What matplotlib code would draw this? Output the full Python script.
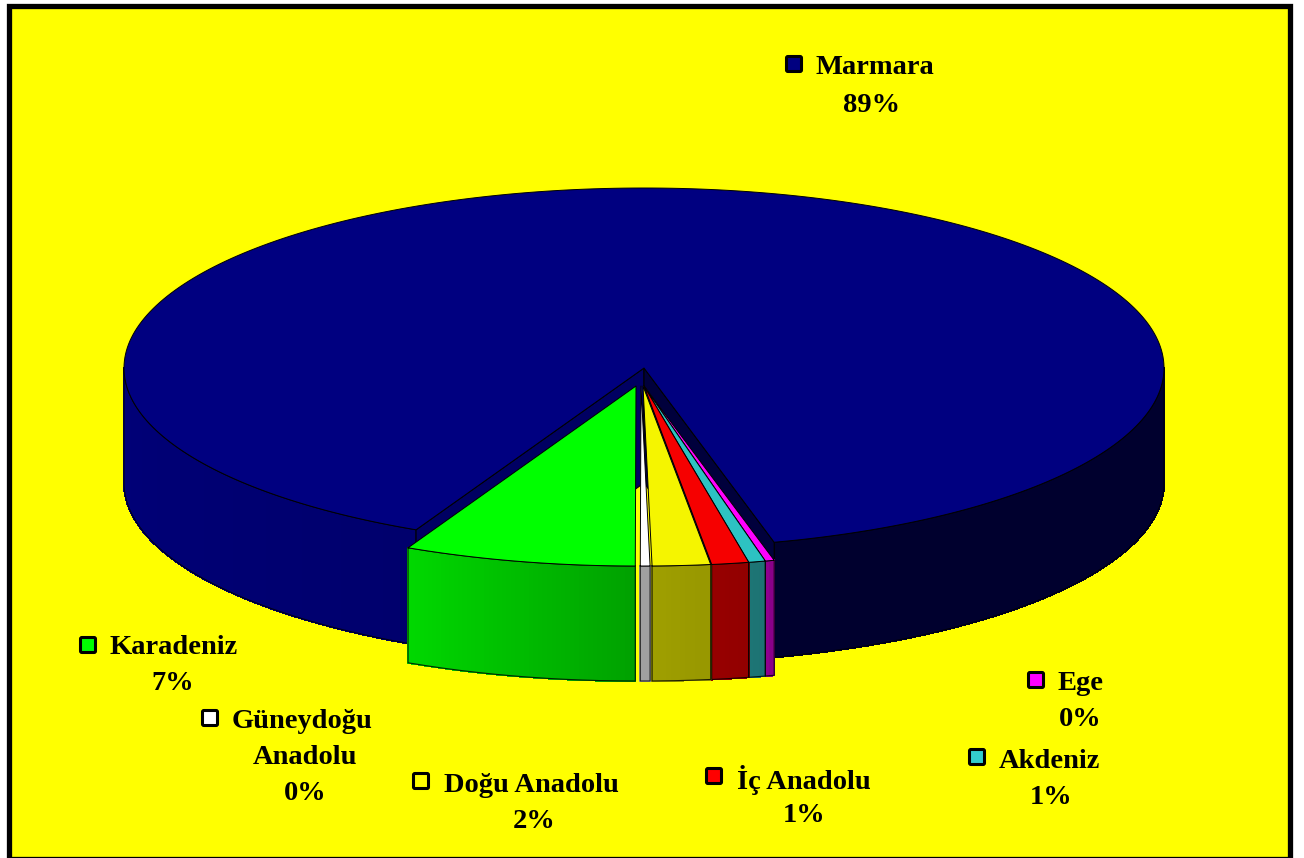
import numpy as np
import matplotlib
matplotlib.use("Agg")
import matplotlib.pyplot as plt
from matplotlib.collections import PolyCollection
from matplotlib.patches import FancyBboxPatch, Rectangle

# clockwise from the back of the pie
labels = ["Marmara", "Ege", "Akdeniz", "İç Anadolu", "Doğu Anadolu", "Güneydoğu\nAnadolu", "Karadeniz"]
values = [88.75, 0.28, 0.52, 1.15, 1.8, 0.3, 7.2]
colors = ["#000080", "#ff00ff", "#33cccc", "#ff0000", "#ffff00", "#ffffff", "#00ff00"]

START = -26.0  # degrees from straight down, positive to the right
CX, CY = 644, 368
RX, RY = 520, 180
DEPTH = 115

# how far each slice is pulled out, pixels
shift = {
    "Marmara": (0, 0), "Ege": (0, 18), "Akdeniz": (0, 18), "İç Anadolu": (0, 18),
    "Doğu Anadolu": (-1, 18), "Güneydoğu\nAnadolu": (-3, 18), "Karadeniz": (-8, 18),
}
top_colors = {"Doğu Anadolu": "#f5f500", "İç Anadolu": "#f60000", "Akdeniz": "#2dc2c2"}

# swatch centre, text left, first line y, centre x of the centred lines
label_pos = {
    "Marmara": (794, 64, 816, 65, 871, 103),
    "Ege": (1036, 680, 1058, 682, 1080, 717),
    "Akdeniz": (977, 757, 999, 759, 1051, 795),
    "İç Anadolu": (714, 776, 737, 778, 804, 814),
    "Doğu Anadolu": (421, 781, 444, 783, 534, 820),
    "Güneydoğu\nAnadolu": (210, 718, 232, 720, 305, 755),
    "Karadeniz": (88, 645, 110, 646, 173, 682),
}


def rim(phi, dx=0, dy=0):
    t = np.radians(phi)
    return CX + dx + RX * np.sin(t), CY + dy + RY * np.cos(t)


def shade(phi):
    return np.interp(phi, [-90, -26, 0, 14.2, 14.6, 90], [0.94, 0.85, 0.63, 0.56, 0.36, 0.36])


def darker(color, f):
    r, g, b = matplotlib.colors.to_rgb(color)
    return (r * f, g * f, b * f)


def draw_wall(ax, phi1, phi2, color, dx=0, dy=0, z=1):
    # only the front part of the wall can be seen
    phi1, phi2 = max(phi1, -90), min(phi2, 90)
    if phi2 <= phi1:
        return
    edges = np.linspace(phi1, phi2, max(int((phi2 - phi1) * 2), 2) + 1)
    polys, cols = [], []
    for a, b in zip(edges[:-1], edges[1:]):
        xa, ya = rim(a, dx, dy)
        xb, yb = rim(b, dx, dy)
        polys.append([(xa, ya), (xb, yb), (xb, yb + DEPTH), (xa, ya + DEPTH)])
        cols.append(darker(color, shade((a + b) / 2)))
    ax.add_collection(PolyCollection(polys, facecolors=cols, edgecolors=cols, linewidths=0.8,
                                     antialiaseds=False, zorder=z))
    ph = np.linspace(phi1, phi2, 80)
    x, y = rim(ph, dx, dy)
    ax.plot(np.r_[x, x[::-1], x[0]], np.r_[y, y[::-1] + DEPTH, y[0]],
            color="#000000", lw=0.8, alpha=0.8, zorder=z + 0.1)


def draw_top(ax, phi1, phi2, color, dx=0, dy=0, z=3):
    ph = np.linspace(phi1, phi2, 300)
    x, y = rim(ph, dx, dy)
    ax.fill(np.r_[CX + dx, x], np.r_[CY + dy, y], facecolor=color, edgecolor="#000000",
            lw=0.7, joinstyle="round", zorder=z)


fig = plt.figure(figsize=(13.04, 8.58), dpi=100, facecolor="white")
ax = fig.add_axes([0, 0, 1, 1])
ax.set_xlim(0, 1304)
ax.set_ylim(858, 0)
ax.axis("off")

ax.add_patch(Rectangle((8.5, 5.5), 1281, 853, facecolor="#ffff00", edgecolor="black", lw=3.8, zorder=0))

# slice limits, going clockwise means phi falls
ends = START - np.cumsum(values) * 3.6 + 360
starts = np.r_[START + 360, ends[:-1]]

# Marmara: wall either side of the gap, then the two cut faces, then the top
m_end = ends[0]
draw_wall(ax, -90, START, colors[0])
draw_wall(ax, m_end, 90, colors[0])
for phi, col in [(START, "#000062"), (m_end, "#00003c")]:
    x, y = rim(phi)
    ax.fill([CX, x, x, CX], [CY, y, y + DEPTH, CY + DEPTH], facecolor=col,
            edgecolor="black", lw=0.8, zorder=2)
draw_top(ax, m_end, 360 + START, colors[0], z=2.5)

# the pulled-out slices, right to left
for i in range(1, len(labels)):
    lab = labels[i]
    dx, dy = shift[lab]
    lo, hi = ends[i], starts[i]
    draw_wall(ax, lo, hi, colors[i], dx, dy, z=4 + i * 0.01)
    draw_top(ax, lo, hi, top_colors.get(lab, colors[i]), dx, dy, z=5 + i * 0.01)

# labels
font = {"family": "Liberation Serif", "weight": "bold", "color": "black", "fontsize": 20.5}
for lab, val, col in zip(labels, values, colors):
    sx, sy, tx, ty, mx, py = label_pos[lab]
    ax.add_patch(FancyBboxPatch((sx - 7.5, sy - 7.5), 15, 15, boxstyle="round,pad=0,rounding_size=1.5",
                                facecolor=col, edgecolor="black", lw=2.2, zorder=6))
    parts = lab.split("\n")
    ax.text(tx, ty + 2, parts[0], ha="left", va="center", zorder=6, **font)
    if len(parts) > 1:
        ax.text(mx, py + 2, parts[1], ha="center", va="center", zorder=6, **font)
        py += 36
    ax.text(mx, py + 2, f"{val:.0f}%", ha="center", va="center", zorder=6, **font)

fig.savefig("out.png", dpi=100, facecolor="white")
